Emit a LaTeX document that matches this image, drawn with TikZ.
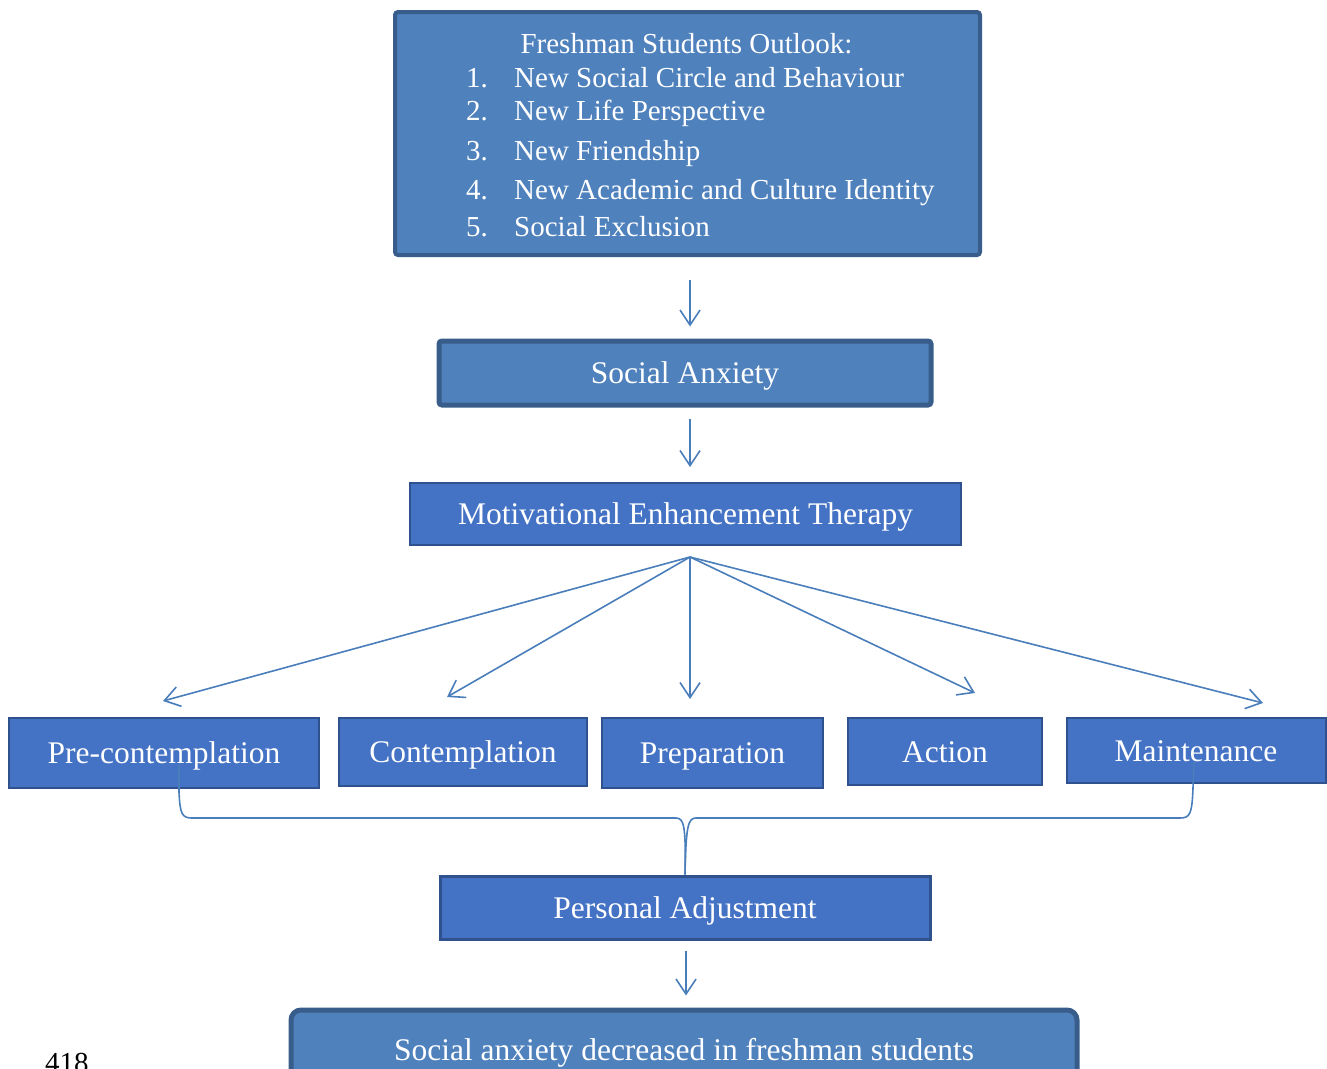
\documentclass[tikz,border=0pt]{standalone}
\usepackage{fontspec}
\setmainfont{Liberation Serif}
\usetikzlibrary{arrows.meta}
\definecolor{oldfill}{HTML}{4F81BD}
\definecolor{oldline}{HTML}{385D8A}
\definecolor{newfill}{HTML}{4472C4}
\definecolor{newline}{HTML}{2F528F}
\definecolor{linkcol}{HTML}{4A7EBB}
\tikzset{
    oldbox/.style={
    rectangle,rounded corners=3pt,draw=oldline,fill=oldfill,line width=4pt,
    text=white,inner sep=0pt,text height=21pt,text depth=0pt,
    font=\fontsize{31.5}{36}\selectfont
    },
    newbox/.style={
    rectangle,draw=newline,fill=newfill,line width=2pt,
    text=white,inner sep=0pt,text height=21pt,text depth=0pt,
    font=\fontsize{31.5}{36}\selectfont
    },
    listtxt/.style={
    inner sep=0pt,text=white,font=\fontsize{29}{34}\selectfont
    },
    link/.style={
    color=linkcol,line width=1.6pt,-{Straight Barb[length=15pt,width=20pt]}
    },
    brace/.style={
    draw=linkcol,line width=1.6pt
    },
}
\begin{document}
\begin{tikzpicture}[x=1pt,y=-1pt]
   \useasboundingbox (0,0) rectangle (1327,1068);

   %outlook
   \node[oldbox,minimum width=585pt,minimum height=243pt] (fso) at (687.5,133.5) {};
   \node[listtxt,anchor=base] (fso0) at (686.5,53) {Freshman Students Outlook:};
   \node[listtxt,anchor=base west] (n1) at (466,87) {1.};
   \node[listtxt,anchor=base west] (i1) at (514,87) {New Social Circle and Behaviour};
   \node[listtxt,anchor=base west] (n2) at (466,120) {2.};
   \node[listtxt,anchor=base west] (i2) at (514,120) {New Life Perspective};
   \node[listtxt,anchor=base west] (n3) at (466,160) {3.};
   \node[listtxt,anchor=base west] (i3) at (514,160) {New Friendship};
   \node[listtxt,anchor=base west] (n4) at (466,199) {4.};
   \node[listtxt,anchor=base west] (i4) at (514,199) {New Academic and Culture Identity};
   \node[listtxt,anchor=base west] (n5) at (466,236) {5.};
   \node[listtxt,anchor=base west] (i5) at (514,236) {Social Exclusion};

   %anxiety and therapy
   \node[oldbox,line width=5pt,minimum width=492pt,minimum height=64pt] (sa) at (685,373) {Social Anxiety};
   \node[newbox,minimum width=551pt,minimum height=62pt] (met) at (685.5,514) {Motivational Enhancement Therapy};

   %stages
   \node[newbox,minimum width=310pt,minimum height=70pt] (pre) at (164,753) {Pre-contemplation};
   \node[newbox,minimum width=248pt,minimum height=68pt] (con) at (463,752) {Contemplation};
   \node[newbox,minimum width=221pt,minimum height=70pt] (prep) at (712.5,753) {Preparation};
   \node[newbox,minimum width=194pt,minimum height=67pt] (act) at (945,751.5) {Action};
   \node[newbox,minimum width=259pt,minimum height=65pt] (mai) at (1196,750.5) {Maintenance};

   %outcome
   \node[newbox,line width=3pt,minimum width=490pt,minimum height=63pt] (pa) at (685,907.5) {Personal Adjustment};
   \node[oldbox,rounded corners=10pt,line width=5pt,minimum width=786pt,minimum height=80pt] (sad) at (684,1050) {Social anxiety decreased in freshman students};
   \node[inner sep=0pt,anchor=base west,font=\fontsize{29}{34}\selectfont] (pg) at (45,1072) {418};

   %fan
   \coordinate (root) at (690,557);
   \coordinate (t1) at (163,701);
   \coordinate (t2) at (447,697);
   \coordinate (t3) at (690,699);
   \coordinate (t4) at (975,693);
   \coordinate (t5) at (1263,703);
   \coordinate (stem) at (686,950);

  \path[link]
    (fso.south -| root) edge[shorten <=23pt,shorten >=12pt] (sa.north -| root)
    (sa.south -| root) edge[shorten <=11pt,shorten >=15pt] (met.north -| root)
    (root) edge (t1)
           edge (t2)
           edge (t3)
           edge (t4)
           edge (t5)
    (pa.south -| stem) edge[shorten <=10pt,shorten >=12pt] (sad.north -| stem);

  %brace
  \draw[brace] ([shift={(15,12)}]pre.center) -- (179,792)
    .. controls (180,814) and (182,818) .. (192,818) -- (676,818)
    .. controls (684,818) and (686,826) .. (pa.north);
  \draw[brace] ([shift={(-2,11.5)}]mai.center) -- (1193,788)
    .. controls (1192,814) and (1190,818) .. (1180,818) -- (696,818)
    .. controls (688,818) and (686,826) .. (pa.north);
\end{tikzpicture}
\end{document}
